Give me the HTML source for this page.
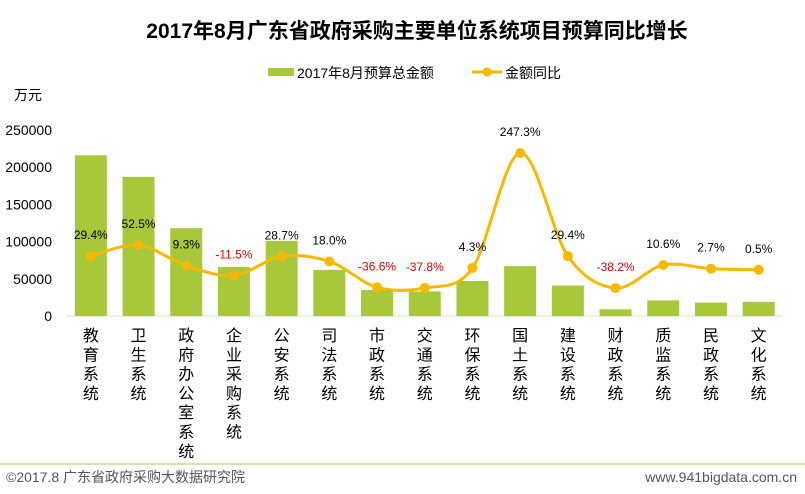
<!DOCTYPE html>
<html><head><meta charset="utf-8"><style>
body{margin:0;background:#fff;}
svg text{font-family:"Liberation Sans","Noto Sans CJK SC",sans-serif;}
</style></head><body>
<svg id="c" width="805" height="489" viewBox="0 0 805 489" xmlns="http://www.w3.org/2000/svg">
<text x="417" y="38" text-anchor="middle" font-size="21" font-weight="bold" fill="#000">2017年8月广东省政府采购主要单位系统项目预算同比增长</text>
<g>
<rect x="268" y="68" width="26" height="8" fill="#a6c83a"/>
<text x="297" y="78" font-size="14" fill="#000">2017年8月预算总金额</text>
<line x1="472" y1="72" x2="502" y2="72" stroke="#f7b900" stroke-width="3"/>
<circle cx="487" cy="72" r="4.5" fill="#f7b900"/>
<text x="505" y="78" font-size="14" fill="#000">金额同比</text>
</g>
<text x="14" y="100" font-size="14" fill="#000">万元</text>
<g id="yaxis"></g>
<g id="bars"></g>
<g id="line"></g>
<g id="xlabels"></g>
<line x1="0" y1="464" x2="805" y2="464" stroke="#c8d890" stroke-width="1.5"/>
<text x="6" y="482" font-size="14" fill="#555">©2017.8 广东省政府采购大数据研究院</text>
<text x="797" y="482" text-anchor="end" font-size="14" fill="#555">www.941bigdata.com.cn</text>
</svg>
<script>
const categories=["教育系统","卫生系统","政府办公室系统","企业采购系统","公安系统","司法系统","市政系统","交通系统","环保系统","国土系统","建设系统","财政系统","质监系统","民政系统","文化系统"];
const budget=[216000,187000,118000,66000,101000,62000,35000,33000,47000,67000,41000,9000,21000,18000,19000];
const growth=[29.4,52.5,9.3,-11.5,28.7,18.0,-36.6,-37.8,4.3,247.3,29.4,-38.2,10.6,2.7,0.5];
const yTicks=[0,50000,100000,150000,200000,250000];
const NS="http://www.w3.org/2000/svg";
const y0=316,yTop=130,yMax=250000;
const x0=67,step=47.7;
function yScale(v){return y0-(v/yMax)*(y0-yTop);}
function xScale(i){return x0+step*(i+0.5);}
function gScale(p){return 270-p*0.473;}
function mk(tag,attrs,parent){const e=document.createElementNS(NS,tag);for(const k in attrs)e.setAttribute(k,attrs[k]);parent.appendChild(e);return e;}
const ya=document.getElementById('yaxis');
yTicks.forEach(t=>{const e=mk('text',{x:52,y:yScale(t)+5,'text-anchor':'end','font-size':14,fill:'#000'},ya);


e.textContent=t;});
const ax=mk('line',{x1:x0,y1:y0,x2:x0+step*15,y2:y0,stroke:'#d9d9d9'},ya);


const bg=document.getElementById('bars');
budget.forEach((v,i)=>{const r=mk('rect',{x:xScale(i)-16,y:yScale(v),width:32,height:y0-yScale(v),fill:'#a6c83a'},bg);

});
const lg=document.getElementById('line');
const pts=growth.map((p,i)=>[xScale(i),gScale(p)]);
let d='M'+pts[0][0]+','+pts[0][1];
for(let i=0;i<pts.length-1;i++){const p0=pts[Math.max(0,i-1)],p1=pts[i],p2=pts[i+1],p3=pts[Math.min(pts.length-1,i+2)];
const c1=[p1[0]+(p2[0]-p0[0])/6,p1[1]+(p2[1]-p0[1])/6],c2=[p2[0]-(p3[0]-p1[0])/6,p2[1]-(p3[1]-p1[1])/6];
d+=' C'+c1+' '+c2+' '+p2;}
const path=mk('path',{d:d,fill:'none',stroke:'#f7b900','stroke-width':3},lg);


growth.forEach((p,i)=>{const c=mk('circle',{cx:pts[i][0],cy:pts[i][1],r:5,fill:'#f7b900'},lg);


const t=mk('text',{x:pts[i][0],y:pts[i][1]-17,'text-anchor':'middle','font-size':12,fill:p<0?'#e00000':'#000'},lg);


t.textContent=p.toFixed(1)+'%';});
const xl=document.getElementById('xlabels');
categories.forEach((c,i)=>{const t=mk('text',{'font-size':16,fill:'#000','text-anchor':'middle'},xl);


[...c].forEach((ch,k)=>{const s=mk('tspan',{x:xScale(i),y:341+k*19.3},t);s.textContent=ch;});});
</script>
</body></html>
